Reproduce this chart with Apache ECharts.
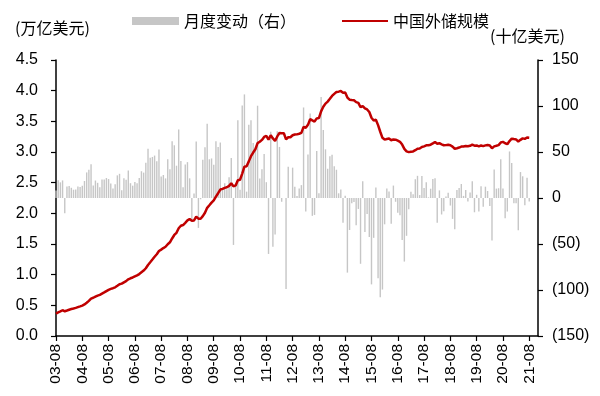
<!DOCTYPE html>
<html><head><meta charset="utf-8">
<script src="https://cdn.jsdelivr.net/npm/echarts@6/dist/echarts.min.js"></script>
<style>html,body{margin:0;padding:0;background:#fff}#c{width:600px;height:396px}</style>
</head><body><div id="c"></div>
<script>
// Month categories: 2003-08 .. 2021-12 (data runs to 2021-08)
const firstYear = 2003, firstMonth = 8, categoryCount = 221;
const categories = [];
for (let k = 0; k < categoryCount; k++) {
  const m = firstMonth - 1 + k, y = firstYear + Math.floor(m / 12), mm = m % 12 + 1;
  categories.push(String(y % 100).padStart(2, '0') + '-' + String(mm).padStart(2, '0'));
}

// China FX reserves, billion USD (line, shown on left axis in trillion USD)
const reserves = [
  364.7, 383.9, 400.9, 420.0, 403.3,
  415.7, 428.7, 439.8, 448.8, 458.0, 470.6, 482.6, 496.0, 514.5, 542.3, 573.1, 609.9,
  623.6, 642.6, 659.1, 670.9, 691.0, 711.0, 732.7, 753.3, 769.0, 779.4, 794.3, 818.9,
  845.2, 853.7, 875.1, 895.0, 925.0, 941.1, 954.5, 971.9, 987.9, 1009.6, 1038.7, 1066.3,
  1104.7, 1158.2, 1202.0, 1246.6, 1292.7, 1332.6, 1385.2, 1408.6, 1433.6, 1454.9, 1497.0, 1528.2,
  1589.8, 1647.1, 1682.2, 1756.7, 1797.0, 1808.8, 1845.2, 1884.2, 1905.6, 1879.7, 1884.7, 1946.0,
  1913.5, 1912.1, 1953.7, 2008.9, 2089.5, 2131.6, 2174.6, 2210.8, 2272.6, 2328.0, 2388.3, 2399.2,
  2415.2, 2424.6, 2447.1, 2490.5, 2439.5, 2454.3, 2538.9, 2547.8, 2648.3, 2760.9, 2767.8, 2847.3,
  2931.7, 2991.4, 3044.7, 3145.0, 3166.3, 3197.5, 3245.3, 3262.5, 3201.7, 3273.8, 3220.9, 3181.1,
  3253.6, 3309.1, 3305.0, 3304.9, 3206.1, 3240.0, 3239.9, 3272.9, 3285.1, 3287.4, 3297.6, 3311.6,
  3410.0, 3395.4, 3442.6, 3534.5, 3515.1, 3496.7, 3547.8, 3553.0, 3662.7, 3736.6, 3789.5, 3821.3,
  3866.6, 3913.7, 3948.1, 3978.8, 3983.9, 3993.2, 3966.3, 3968.8, 3887.7, 3852.9, 3847.3, 3843.0,
  3813.4, 3801.5, 3730.0, 3748.1, 3711.1, 3693.8, 3651.3, 3557.4, 3514.1, 3525.5, 3438.3, 3330.4,
  3230.9, 3202.3, 3212.6, 3219.7, 3191.7, 3205.2, 3201.1, 3185.2, 3166.4, 3120.7, 3051.6, 3010.5,
  2998.2, 3005.1, 3009.1, 3029.5, 3053.6, 3056.8, 3080.7, 3091.5, 3108.5, 3109.2, 3119.3, 3139.9,
  3161.5, 3134.5, 3142.8, 3124.9, 3110.6, 3112.1, 3117.9, 3109.7, 3087.0, 3053.1, 3061.7, 3072.7,
  3087.9, 3090.2, 3098.8, 3095.0, 3101.0, 3119.2, 3103.7, 3107.2, 3092.4, 3105.2, 3095.6, 3107.9,
  3115.5, 3106.7, 3060.6, 3091.5, 3101.7, 3112.3, 3154.4, 3164.6, 3142.6, 3127.9, 3178.5, 3216.5,
  3210.7, 3205.0, 3170.0, 3198.2, 3221.8, 3214.0, 3235.9, 3232.1
];

// Monthly change, billion USD (bars, right axis)
const monthlyChange = [
  8.2, 19.2, 17.0, 19.1, -16.7,
  12.4, 13.0, 11.1, 9.0, 9.2, 12.6, 12.0, 13.4, 18.5, 27.8, 30.8, 36.8,
  13.7, 19.0, 16.5, 11.8, 20.1, 20.0, 21.7, 20.6, 15.7, 10.4, 14.9, 24.6,
  26.3, 8.5, 21.4, 19.9, 30.0, 16.1, 13.4, 17.4, 16.0, 21.7, 29.1, 27.6,
  38.4, 53.5, 43.8, 44.6, 46.1, 39.9, 52.6, 23.4, 25.0, 21.3, 42.1, 31.2,
  61.6, 57.3, 35.1, 74.5, 40.3, 11.8, 36.4, 39.0, 21.4, -25.9, 5.0, 61.3,
  -32.5, -1.4, 41.6, 55.2, 80.6, 42.1, 43.0, 36.2, 61.8, 55.4, 60.3, 10.9,
  16.0, 9.4, 22.5, 43.4, -51.0, 14.8, 84.6, 8.9, 100.5, 112.6, 6.9, 79.5,
  84.4, 59.7, 53.3, 100.3, 21.3, 31.2, 47.8, 17.2, -60.8, 72.1, -52.9, -39.8,
  72.5, 55.5, -4.1, -0.1, -98.8, 33.9, -0.1, 33.0, 12.2, 2.3, 10.2, 14.0,
  98.4, -14.6, 47.2, 91.9, -19.4, -18.4, 51.1, 5.2, 109.7, 73.9, 52.9, 31.8,
  45.3, 47.1, 34.4, 30.7, 5.1, 9.3, -26.9, 2.5, -81.1, -34.8, -5.6, -4.3,
  -29.6, -11.9, -71.5, 18.1, -37.0, -17.3, -42.5, -93.9, -43.3, 11.4, -87.2, -107.9,
  -99.5, -28.6, 10.3, 7.1, -28.0, 13.5, -4.1, -15.9, -18.8, -45.7, -69.1, -41.1,
  -12.3, 6.9, 4.0, 20.4, 24.1, 3.2, 23.9, 10.8, 17.0, 0.7, 10.1, 20.6,
  21.6, -27.0, 8.3, -17.9, -14.3, 1.5, 5.8, -8.2, -22.7, -33.9, 8.6, 11.0,
  15.2, 2.3, 8.6, -3.8, 6.0, 18.2, -15.5, 3.5, -14.8, 12.8, -9.6, 12.3,
  7.6, -8.8, -46.1, 30.9, 10.2, 10.6, 42.1, 10.2, -22.0, -14.7, 50.6, 38.0,
  -5.8, -5.7, -35.0, 28.2, 23.6, -7.8, 21.9, -3.8
];

const leftAxis = { min: 0, max: 4.5, interval: 0.5 };
const rightAxis = { min: -150, max: 150, interval: 50 };
const barName = '月度变动（右）';
const lineName = '中国外储规模';
const leftUnit = '(万亿美元)';
const rightUnit = '(十亿美元)';

const numFont = '"Liberation Sans", Arial, sans-serif';
const cjkFont = '"Noto Sans CJK SC", sans-serif';
const axisLineStyle = { color: '#000', width: 1.5 };

const chart = echarts.init(document.getElementById('c'), null, { renderer: 'canvas' });
chart.setOption({
  animation: false,
  backgroundColor: '#fff',
  grid: { left: 56, right: 62, top: 60, bottom: 60, containLabel: false },
  legend: [
    { data: [barName], left: 127, top: 8, icon: 'rect', itemWidth: 47, itemHeight: 8, itemGap: 5,
      textStyle: { fontSize: 16, fontFamily: cjkFont, color: '#000', padding: [0, 0, 0, 0] } },
    { data: [lineName], left: 337, top: 8, icon: 'rect', itemWidth: 46, itemHeight: 2,
      textStyle: { fontSize: 16, fontFamily: cjkFont, color: '#000' } }
  ],
  graphic: [
    { type: 'text', left: 15, top: 20, style: { text: leftUnit, font: '16px ' + cjkFont, fill: '#000' } },
    { type: 'text', left: 490, top: 28, style: { text: rightUnit, font: '16px ' + cjkFont, fill: '#000' } }
  ],
  xAxis: {
    type: 'category', data: categories, boundaryGap: false,
    axisLine: { lineStyle: axisLineStyle },
    axisTick: { show: true, interval: 11, length: 5, lineStyle: { color: '#000', width: 1.2 } },
    axisLabel: { interval: 11, rotate: 90, margin: 8, fontSize: 15.5, color: '#000', fontFamily: numFont },
    splitLine: { show: false }
  },
  yAxis: [
    { type: 'value', position: 'left', min: leftAxis.min, max: leftAxis.max, interval: leftAxis.interval,
      axisLine: { show: true, lineStyle: axisLineStyle },
      axisTick: { show: true, length: 5, lineStyle: { color: '#000', width: 1.2 } },
      axisLabel: { margin: 18, fontSize: 16, color: '#000', fontFamily: numFont,
        formatter: v => v.toFixed(1) },
      splitLine: { show: false } },
    { type: 'value', position: 'right', min: rightAxis.min, max: rightAxis.max, interval: rightAxis.interval,
      axisLine: { show: true, lineStyle: axisLineStyle },
      axisTick: { show: true, length: 5, lineStyle: { color: '#000', width: 1.2 } },
      axisLabel: { margin: 14, fontSize: 16, color: '#000', fontFamily: numFont,
        formatter: v => v < 0 ? '(' + (-v) + ')' : String(v) },
      splitLine: { show: false } }
  ],
  series: [
    { name: barName, type: 'bar', yAxisIndex: 1, data: monthlyChange, barWidth: 1.4,
      itemStyle: { color: '#c6c6c6' }, z: 1 },
    { name: lineName, type: 'line', yAxisIndex: 0, data: reserves.map(v => v / 1000),
      showSymbol: false, symbol: 'none', lineStyle: { color: '#c00000', width: 2.5 },
      itemStyle: { color: '#c00000' }, z: 3 }
  ]
});
</script>
</body></html>
